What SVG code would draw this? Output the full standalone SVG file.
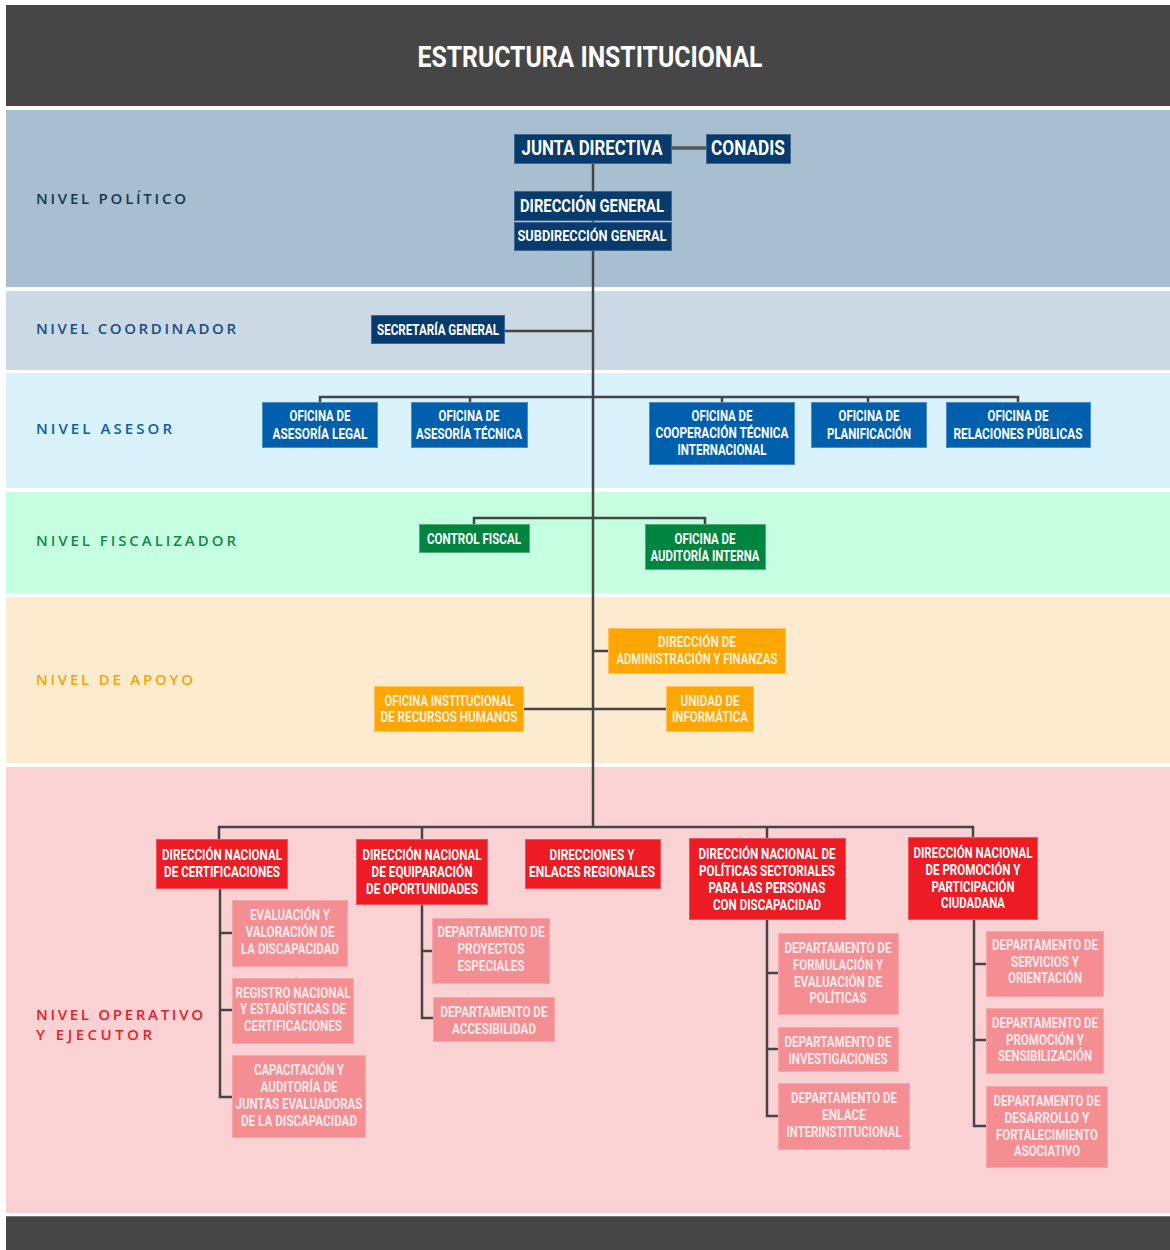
<svg xmlns="http://www.w3.org/2000/svg" width="1170" height="1250" viewBox="0 0 1170 1250">
<style>
.band{stroke:none}
.lvl{font-family:"Open Sans","Noto Sans","Liberation Sans",sans-serif;font-weight:600;font-size:15px}
.t{font-family:Roboto,"Liberation Sans",sans-serif;font-weight:700;text-anchor:middle}
.w{fill:#ffffff}
.n1{fill:#073a6d;stroke:#3d6690;stroke-width:1}
.n2{fill:#0060ad;stroke:#4d8cc6;stroke-width:1}
.n3{fill:#008541;stroke:#4fae79;stroke-width:1}
.n4{fill:#fea602;stroke:#fec35a;stroke-width:1}
.n5{fill:#ec1b24;stroke:#f0555b;stroke-width:1}
.n6{fill:#f48e93;stroke:#f7a7aa;stroke-width:1}
.ty{fill:#fdf1dc}
.tp{fill:#fde9ea}
.c{fill:none;stroke:#454545;stroke-width:2.5}
</style>
<rect x="0" y="0" width="1170" height="1250" fill="#ffffff"/>
<g id="bands">
<rect class="band" x="6" y="5" width="1164" height="101" fill="#464646"/>
<rect class="band" x="6" y="110" width="1164" height="177" fill="#a8bfcf"/>
<rect class="band" x="6" y="291" width="1164" height="79" fill="#cbd9e5"/>
<rect class="band" x="6" y="373" width="1164" height="115" fill="#d9f1f8"/>
<rect class="band" x="6" y="492" width="1164" height="101" fill="#c5fee1"/>
<rect class="band" x="6" y="597" width="1164" height="166" fill="#fdebd0"/>
<rect class="band" x="6" y="767" width="1164" height="446" fill="#fbd2d4"/>
<rect class="band" x="6" y="1216" width="1164" height="34" fill="#464646"/>
<line x1="6" y1="1216.5" x2="1170" y2="1216.5" stroke="#7a7a7a" stroke-width="1"/>
</g>
<g id="title">
<text class="t w" x="590" y="67" font-size="30" textLength="345" lengthAdjust="spacingAndGlyphs">ESTRUCTURA INSTITUCIONAL</text>
</g>
<g id="levels">
<text class="lvl" x="36" y="204" fill="#1b3553" textLength="150">NIVEL POLÍTICO</text>
<text class="lvl" x="36" y="334" fill="#1a4d82" textLength="200">NIVEL COORDINADOR</text>
<text class="lvl" x="36" y="434" fill="#0b5ea6" textLength="136">NIVEL ASESOR</text>
<text class="lvl" x="36" y="546" fill="#108a48" textLength="200">NIVEL FISCALIZADOR</text>
<text class="lvl" x="36" y="685" fill="#f6a600" textLength="157">NIVEL DE APOYO</text>
<text class="lvl" x="36" y="1020" fill="#e8202a" font-size="14" textLength="167">NIVEL OPERATIVO</text>
<text class="lvl" x="36" y="1040" fill="#e8202a" font-size="14" textLength="116">Y EJECUTOR</text>
</g>
<g id="connectors">
<line x1="671" y1="148" x2="706" y2="148" stroke="#555" stroke-width="3.5"/>
<line class="c" x1="593" y1="163" x2="593" y2="828"/>
<line class="c" x1="505" y1="331" x2="593" y2="331"/>
<polyline class="c" points="320,402 320,397 1018,397 1018,402"/>
<line class="c" x1="470" y1="397" x2="470" y2="402"/>
<line class="c" x1="722" y1="397" x2="722" y2="402"/>
<line class="c" x1="868" y1="397" x2="868" y2="402"/>
<polyline class="c" points="474,524 474,518 705,518 705,524"/>
<line class="c" x1="593" y1="651" x2="608" y2="651"/>
<line class="c" x1="524" y1="709" x2="666" y2="709"/>
<polyline class="c" points="219,839 219,827 973,827 973,837"/>
<line class="c" x1="422" y1="827" x2="422" y2="839"/>
<line class="c" x1="767" y1="827" x2="767" y2="838"/>
<polyline class="c" points="220,888 220,1097 232,1097"/>
<line class="c" x1="220" y1="933" x2="232" y2="933"/>
<line class="c" x1="220" y1="1010" x2="232" y2="1010"/>
<polyline class="c" points="422,904 422,1018 433,1018"/>
<line class="c" x1="422" y1="951" x2="432" y2="951"/>
<polyline class="c" points="767,919 767,1116 778,1116"/>
<line class="c" x1="767" y1="973" x2="778" y2="973"/>
<line class="c" x1="767" y1="1049" x2="778" y2="1049"/>
<polyline class="c" points="974,919 974,1126 986,1126"/>
<line class="c" x1="974" y1="964" x2="986" y2="964"/>
<line class="c" x1="974" y1="1040" x2="986" y2="1040"/>
</g>
<g id="junta-directiva"><rect class="n1" x="514.5" y="134.5" width="157" height="29"/>
<text class="t w" x="592" y="155" font-size="21" textLength="141" lengthAdjust="spacingAndGlyphs">JUNTA DIRECTIVA</text></g>
<g id="conadis"><rect class="n1" x="706.5" y="134.5" width="84" height="29"/>
<text class="t w" x="748" y="155" font-size="21" textLength="74" lengthAdjust="spacingAndGlyphs">CONADIS</text></g>
<g id="direccion-general"><rect class="n1" x="514.5" y="191.5" width="157" height="29"/>
<text class="t w" x="592" y="212" font-size="18" textLength="144" lengthAdjust="spacingAndGlyphs">DIRECCIÓN GENERAL</text></g>
<g id="subdireccion-general"><rect class="n1" x="514.5" y="222.5" width="157" height="28"/>
<text class="t w" x="592" y="241" font-size="14" textLength="149" lengthAdjust="spacingAndGlyphs">SUBDIRECCIÓN GENERAL</text></g>
<g id="secretaria-general"><rect class="n1" x="371.5" y="315.5" width="133" height="28"/>
<text class="t w" x="438" y="335" font-size="15" textLength="122" lengthAdjust="spacingAndGlyphs">SECRETARÍA GENERAL</text></g>

<g id="asesoria-legal"><rect class="n2" x="262.5" y="402.5" width="115" height="45"/>
<text class="t w" x="320" y="421" font-size="14.5" textLength="61" lengthAdjust="spacingAndGlyphs">OFICINA DE</text>
<text class="t w" x="320" y="439" font-size="14.5" textLength="95" lengthAdjust="spacingAndGlyphs">ASESORÍA LEGAL</text></g>
<g id="asesoria-tecnica"><rect class="n2" x="411.5" y="402.5" width="116" height="45"/>
<text class="t w" x="469" y="421" font-size="14.5" textLength="61" lengthAdjust="spacingAndGlyphs">OFICINA DE</text>
<text class="t w" x="469" y="439" font-size="14.5" textLength="106" lengthAdjust="spacingAndGlyphs">ASESORÍA TÉCNICA</text></g>
<g id="cooperacion"><rect class="n2" x="649.5" y="402.5" width="145" height="62"/>
<text class="t w" x="722" y="421" font-size="14.5" textLength="61" lengthAdjust="spacingAndGlyphs">OFICINA DE</text>
<text class="t w" x="722" y="438" font-size="14.5" textLength="133" lengthAdjust="spacingAndGlyphs">COOPERACIÓN TÉCNICA</text>
<text class="t w" x="722" y="455" font-size="14.5" textLength="89" lengthAdjust="spacingAndGlyphs">INTERNACIONAL</text></g>
<g id="planificacion"><rect class="n2" x="811.5" y="402.5" width="115" height="45"/>
<text class="t w" x="869" y="421" font-size="14.5" textLength="61" lengthAdjust="spacingAndGlyphs">OFICINA DE</text>
<text class="t w" x="869" y="439" font-size="14.5" textLength="84" lengthAdjust="spacingAndGlyphs">PLANIFICACIÓN</text></g>
<g id="relaciones-publicas"><rect class="n2" x="946.5" y="402.5" width="144" height="45"/>
<text class="t w" x="1018" y="421" font-size="14.5" textLength="61" lengthAdjust="spacingAndGlyphs">OFICINA DE</text>
<text class="t w" x="1018" y="439" font-size="14.5" textLength="129" lengthAdjust="spacingAndGlyphs">RELACIONES PÚBLICAS</text></g>

<g id="control-fiscal"><rect class="n3" x="419.5" y="524.5" width="110" height="28"/>
<text class="t w" x="474" y="544" font-size="14.5" textLength="94" lengthAdjust="spacingAndGlyphs">CONTROL FISCAL</text></g>
<g id="auditoria-interna"><rect class="n3" x="645.5" y="524.5" width="120" height="45"/>
<text class="t w" x="705" y="544" font-size="14.5" textLength="61" lengthAdjust="spacingAndGlyphs">OFICINA DE</text>
<text class="t w" x="705" y="561" font-size="14.5" textLength="109" lengthAdjust="spacingAndGlyphs">AUDITORÍA INTERNA</text></g>

<g id="administracion-finanzas"><rect class="n4" x="608.5" y="628.5" width="177" height="45"/>
<text class="t ty" x="697" y="647" font-size="14" textLength="78" lengthAdjust="spacingAndGlyphs">DIRECCIÓN DE</text>
<text class="t ty" x="697" y="664" font-size="14" textLength="161" lengthAdjust="spacingAndGlyphs">ADMINISTRACIÓN Y FINANZAS</text></g>
<g id="recursos-humanos"><rect class="n4" x="374.5" y="686.5" width="149" height="45"/>
<text class="t ty" x="449" y="706" font-size="14" textLength="129" lengthAdjust="spacingAndGlyphs">OFICINA INSTITUCIONAL</text>
<text class="t ty" x="449" y="722" font-size="14" textLength="137" lengthAdjust="spacingAndGlyphs">DE RECURSOS HUMANOS</text></g>
<g id="informatica"><rect class="n4" x="666.5" y="686.5" width="87" height="45"/>
<text class="t ty" x="710" y="706" font-size="14" textLength="59" lengthAdjust="spacingAndGlyphs">UNIDAD DE</text>
<text class="t ty" x="710" y="722" font-size="14" textLength="76" lengthAdjust="spacingAndGlyphs">INFORMÁTICA</text></g>

<g id="dn-certificaciones"><rect class="n5" x="156.5" y="839.5" width="131" height="49"/>
<text class="t w" x="222" y="860" font-size="14" textLength="120" lengthAdjust="spacingAndGlyphs">DIRECCIÓN NACIONAL</text>
<text class="t w" x="222" y="877" font-size="14" textLength="116" lengthAdjust="spacingAndGlyphs">DE CERTIFICACIONES</text></g>
<g id="dn-equiparacion"><rect class="n5" x="356.5" y="839.5" width="131" height="65"/>
<text class="t w" x="422" y="860" font-size="14" textLength="119" lengthAdjust="spacingAndGlyphs">DIRECCIÓN NACIONAL</text>
<text class="t w" x="422" y="877" font-size="14" textLength="101" lengthAdjust="spacingAndGlyphs">DE EQUIPARACIÓN</text>
<text class="t w" x="422" y="894" font-size="14" textLength="112" lengthAdjust="spacingAndGlyphs">DE OPORTUNIDADES</text></g>
<g id="direcciones-regionales"><rect class="n5" x="525.5" y="839.5" width="135" height="49"/>
<text class="t w" x="592" y="860" font-size="14" textLength="85" lengthAdjust="spacingAndGlyphs">DIRECCIONES Y</text>
<text class="t w" x="592" y="877" font-size="14" textLength="126" lengthAdjust="spacingAndGlyphs">ENLACES REGIONALES</text></g>
<g id="dn-politicas"><rect class="n5" x="689.5" y="838.5" width="156" height="81"/>
<text class="t w" x="767" y="859" font-size="14" textLength="137" lengthAdjust="spacingAndGlyphs">DIRECCIÓN NACIONAL DE</text>
<text class="t w" x="767" y="876" font-size="14" textLength="136" lengthAdjust="spacingAndGlyphs">POLÍTICAS SECTORIALES</text>
<text class="t w" x="767" y="893" font-size="14" textLength="117" lengthAdjust="spacingAndGlyphs">PARA LAS PERSONAS</text>
<text class="t w" x="767" y="910" font-size="14" textLength="108" lengthAdjust="spacingAndGlyphs">CON DISCAPACIDAD</text></g>
<g id="dn-promocion"><rect class="n5" x="908.5" y="837.5" width="129" height="82"/>
<text class="t w" x="973" y="858" font-size="14" textLength="119" lengthAdjust="spacingAndGlyphs">DIRECCIÓN NACIONAL</text>
<text class="t w" x="973" y="875" font-size="14" textLength="95" lengthAdjust="spacingAndGlyphs">DE PROMOCIÓN Y</text>
<text class="t w" x="973" y="892" font-size="14" textLength="83" lengthAdjust="spacingAndGlyphs">PARTICIPACIÓN</text>
<text class="t w" x="973" y="908" font-size="14" textLength="64" lengthAdjust="spacingAndGlyphs">CIUDADANA</text></g>

<g id="evaluacion-valoracion"><rect class="n6" x="232.5" y="900.5" width="115" height="66"/>
<text class="t tp" x="290" y="920" font-size="14" textLength="80" lengthAdjust="spacingAndGlyphs">EVALUACIÓN Y</text>
<text class="t tp" x="290" y="937" font-size="14" textLength="89" lengthAdjust="spacingAndGlyphs">VALORACIÓN DE</text>
<text class="t tp" x="290" y="954" font-size="14" textLength="98" lengthAdjust="spacingAndGlyphs">LA DISCAPACIDAD</text></g>
<g id="registro-nacional"><rect class="n6" x="232.5" y="978.5" width="121" height="65"/>
<text class="t tp" x="293" y="998" font-size="14" textLength="115" lengthAdjust="spacingAndGlyphs">REGISTRO NACIONAL</text>
<text class="t tp" x="293" y="1014" font-size="14" textLength="106" lengthAdjust="spacingAndGlyphs">Y ESTADÍSTICAS DE</text>
<text class="t tp" x="293" y="1031" font-size="14" textLength="98" lengthAdjust="spacingAndGlyphs">CERTIFICACIONES</text></g>
<g id="capacitacion-auditoria"><rect class="n6" x="232.5" y="1055.5" width="133" height="82"/>
<text class="t tp" x="299" y="1075" font-size="14" textLength="90" lengthAdjust="spacingAndGlyphs">CAPACITACIÓN Y</text>
<text class="t tp" x="299" y="1092" font-size="14" textLength="77" lengthAdjust="spacingAndGlyphs">AUDITORÍA DE</text>
<text class="t tp" x="299" y="1109" font-size="14" textLength="127" lengthAdjust="spacingAndGlyphs">JUNTAS EVALUADORAS</text>
<text class="t tp" x="299" y="1126" font-size="14" textLength="116" lengthAdjust="spacingAndGlyphs">DE LA DISCAPACIDAD</text></g>
<g id="proyectos-especiales"><rect class="n6" x="432.5" y="918.5" width="117" height="65"/>
<text class="t tp" x="491" y="937" font-size="14" textLength="107" lengthAdjust="spacingAndGlyphs">DEPARTAMENTO DE</text>
<text class="t tp" x="491" y="954" font-size="14" textLength="67" lengthAdjust="spacingAndGlyphs">PROYECTOS</text>
<text class="t tp" x="491" y="971" font-size="14" textLength="67" lengthAdjust="spacingAndGlyphs">ESPECIALES</text></g>
<g id="accesibilidad"><rect class="n6" x="433.5" y="997.5" width="121" height="44"/>
<text class="t tp" x="494" y="1017" font-size="14" textLength="107" lengthAdjust="spacingAndGlyphs">DEPARTAMENTO DE</text>
<text class="t tp" x="494" y="1034" font-size="14" textLength="84" lengthAdjust="spacingAndGlyphs">ACCESIBILIDAD</text></g>
<g id="formulacion-evaluacion"><rect class="n6" x="778.5" y="933.5" width="120" height="81"/>
<text class="t tp" x="838" y="953" font-size="14" textLength="107" lengthAdjust="spacingAndGlyphs">DEPARTAMENTO DE</text>
<text class="t tp" x="838" y="970" font-size="14" textLength="90" lengthAdjust="spacingAndGlyphs">FORMULACIÓN Y</text>
<text class="t tp" x="838" y="987" font-size="14" textLength="88" lengthAdjust="spacingAndGlyphs">EVALUACIÓN DE</text>
<text class="t tp" x="838" y="1003" font-size="14" textLength="57" lengthAdjust="spacingAndGlyphs">POLÍTICAS</text></g>
<g id="investigaciones"><rect class="n6" x="778.5" y="1027.5" width="120" height="44"/>
<text class="t tp" x="838" y="1047" font-size="14" textLength="107" lengthAdjust="spacingAndGlyphs">DEPARTAMENTO DE</text>
<text class="t tp" x="838" y="1064" font-size="14" textLength="99" lengthAdjust="spacingAndGlyphs">INVESTIGACIONES</text></g>
<g id="enlace-interinstitucional"><rect class="n6" x="778.5" y="1083.5" width="131" height="66"/>
<text class="t tp" x="844" y="1103" font-size="14" textLength="106" lengthAdjust="spacingAndGlyphs">DEPARTAMENTO DE</text>
<text class="t tp" x="844" y="1120" font-size="14" textLength="44" lengthAdjust="spacingAndGlyphs">ENLACE</text>
<text class="t tp" x="844" y="1137" font-size="14" textLength="115" lengthAdjust="spacingAndGlyphs">INTERINSTITUCIONAL</text></g>
<g id="servicios-orientacion"><rect class="n6" x="986.5" y="931.5" width="117" height="65"/>
<text class="t tp" x="1045" y="950" font-size="14" textLength="106" lengthAdjust="spacingAndGlyphs">DEPARTAMENTO DE</text>
<text class="t tp" x="1045" y="967" font-size="14" textLength="68" lengthAdjust="spacingAndGlyphs">SERVICIOS Y</text>
<text class="t tp" x="1045" y="983" font-size="14" textLength="74" lengthAdjust="spacingAndGlyphs">ORIENTACIÓN</text></g>
<g id="promocion-sensibilizacion"><rect class="n6" x="986.5" y="1008.5" width="117" height="65"/>
<text class="t tp" x="1045" y="1028" font-size="14" textLength="106" lengthAdjust="spacingAndGlyphs">DEPARTAMENTO DE</text>
<text class="t tp" x="1045" y="1045" font-size="14" textLength="78" lengthAdjust="spacingAndGlyphs">PROMOCIÓN Y</text>
<text class="t tp" x="1045" y="1061" font-size="14" textLength="94" lengthAdjust="spacingAndGlyphs">SENSIBILIZACIÓN</text></g>
<g id="desarrollo-fortalecimiento"><rect class="n6" x="986.5" y="1086.5" width="121" height="81"/>
<text class="t tp" x="1047" y="1106" font-size="14" textLength="107" lengthAdjust="spacingAndGlyphs">DEPARTAMENTO DE</text>
<text class="t tp" x="1047" y="1123" font-size="14" textLength="85" lengthAdjust="spacingAndGlyphs">DESARROLLO Y</text>
<text class="t tp" x="1047" y="1140" font-size="14" textLength="102" lengthAdjust="spacingAndGlyphs">FORTALECIMIENTO</text>
<text class="t tp" x="1047" y="1156" font-size="14" textLength="66" lengthAdjust="spacingAndGlyphs">ASOCIATIVO</text></g>
</svg>
